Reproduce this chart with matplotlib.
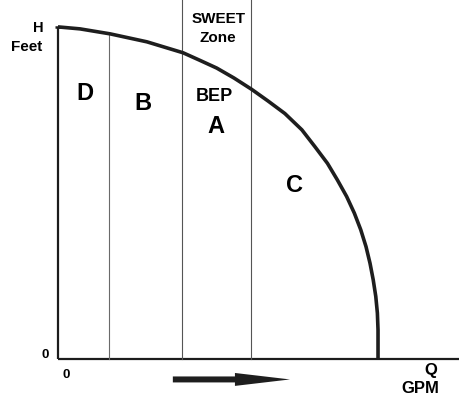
import matplotlib
matplotlib.use('Agg')
import matplotlib.pyplot as plt

plt.rcParams['font.family'] = ['Liberation Sans', 'DejaVu Sans']
plt.rcParams['font.weight'] = 'bold'

# Pump curve: flow (0..100 = shutoff Q) vs head (0..100 = H)
flow = [0, 6.9, 16.3, 27.8, 39.1, 44.4, 49.6, 55.0, 60.5, 65.6, 70.9, 76.2,
        80.3, 84.2, 87.3, 90.2, 92.6, 94.6, 96.25, 97.5, 98.5, 99.3, 99.8,
        100, 100]
head = [100, 99.4, 97.9, 95.5, 92.2, 89.9, 87.6, 84.6, 81.2, 77.7, 73.9, 69.0,
        63.9, 58.9, 53.9, 48.9, 43.9, 38.9, 33.8, 28.8, 23.8, 18.8, 13.8,
        8.7, 0]

# Zone boundaries on the flow axis
zone_d_b = 15.9
sweet_left = 38.75
sweet_right = 60.3
head_at_d_b = 97.9

q_max = 125.3
h_top = 108.1

fig = plt.figure(figsize=(4.59, 4.05), dpi=100)
ax = fig.add_axes([0, 0, 1, 1])
ax.set_xlim(-18.1, q_max)
ax.set_ylim(-13.9, h_top)
ax.axis('off')

# axes drawn by hand (left only up to H, bottom runs off the right edge)
ax.plot([0, 0], [0, 100], color='#1c1c1c', lw=1.6, solid_capstyle='butt')
ax.plot([0, q_max], [0, 0], color='#1c1c1c', lw=1.6, solid_capstyle='butt')
ax.plot([-0.9, 1.5], [100, 100], color='#1c1c1c', lw=1.8, solid_capstyle='butt')

# zone lines
ax.plot([zone_d_b, zone_d_b], [0, head_at_d_b], color='#6a6a6a', lw=0.8)
ax.plot([sweet_left, sweet_left], [0, h_top], color='#555555', lw=0.8)
ax.plot([sweet_right, sweet_right], [0, h_top], color='#555555', lw=0.8)

# the pump curve
ax.plot(flow, head, color='#1e1e1e', lw=2.6, solid_joinstyle='round',
        solid_capstyle='butt')

# labels
ax.text(-6.25, 99.7, 'H', ha='center', va='center', fontsize=10.5)
ax.text(-9.8, 93.8, 'Feet', ha='center', va='center', fontsize=11)
ax.text(8.4, 80.0, 'D', ha='center', va='center', fontsize=17)
ax.text(26.7, 77.0, 'B', ha='center', va='center', fontsize=17)
ax.text(48.9, 79.1, 'BEP', ha='center', va='center', fontsize=13)
ax.text(49.4, 70.0, 'A', ha='center', va='center', fontsize=17)
ax.text(50.3, 102.4, 'SWEET', ha='center', va='center', fontsize=11)
ax.text(49.8, 96.8, 'Zone', ha='center', va='center', fontsize=11)
ax.text(73.9, 52.1, 'C', ha='center', va='center', fontsize=17)
ax.text(-4.1, 1.2, '0', ha='center', va='center', fontsize=9.5)
ax.text(2.7, -4.8, '0', ha='center', va='center', fontsize=9.5)
ax.text(116.6, -3.6, 'Q', ha='center', va='center', fontsize=12)
ax.text(113.1, -9.0, 'GPM', ha='center', va='center', fontsize=12)

# direction arrow under the flow axis
ax.arrow(35.9, -6.2, 36.6, 0, width=1.8, head_width=3.9, head_length=17.2,
         length_includes_head=True, color='#1e1e1e', lw=0)

fig.savefig('out.png', dpi=100, facecolor='white')
